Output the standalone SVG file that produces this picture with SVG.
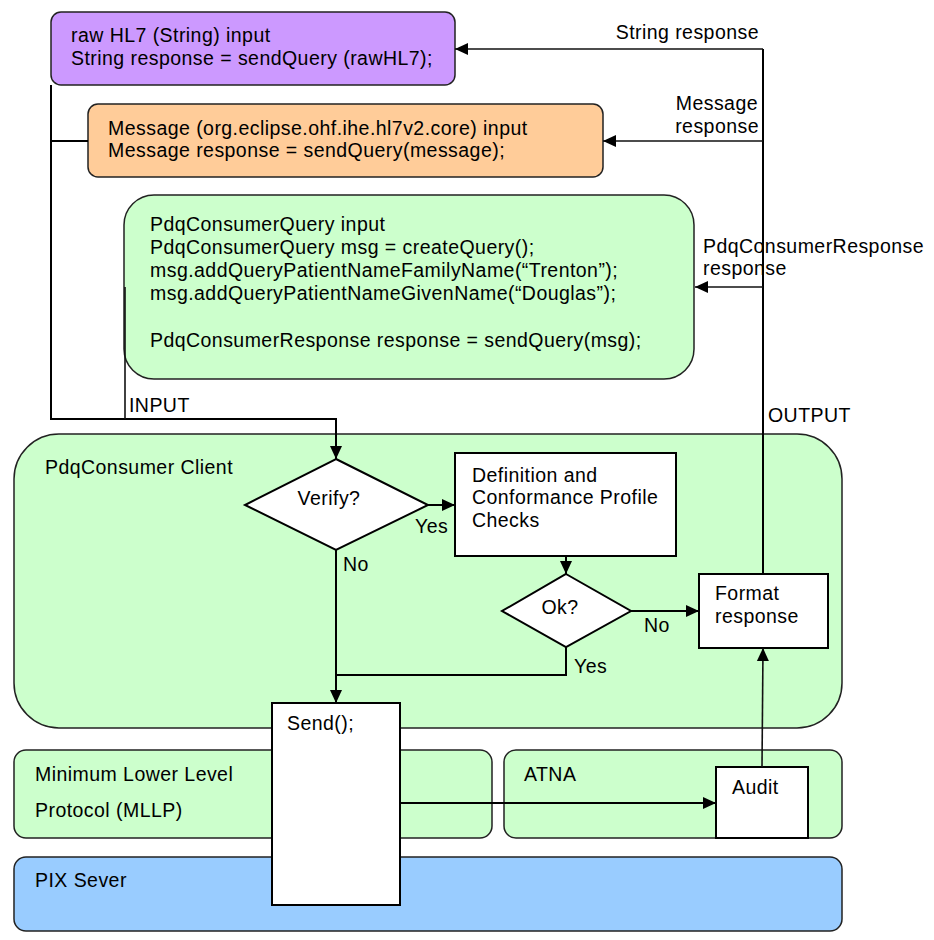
<svg xmlns="http://www.w3.org/2000/svg" width="934" height="940" viewBox="0 0 934 940">
<defs>
<marker id="ah" markerUnits="userSpaceOnUse" markerWidth="13" markerHeight="13" viewBox="0 0 13 13" refX="13" refY="6.5" orient="auto">
<path d="M0,0.5 L13,6.5 L0,12.5 z" fill="#000"/>
</marker>
<style>
text{font-family:"Liberation Sans",Arial,Helvetica,sans-serif;font-size:19.5px;letter-spacing:0.45px;fill:#000}
.box{stroke:#222;stroke-width:1.5}
.wb{fill:#fff;stroke:#000;stroke-width:2}
.c{fill:none;stroke:#000;stroke-width:2}
.c1{fill:none;stroke:#111;stroke-width:1.6}
</style>
</defs>
<rect width="934" height="940" fill="#fff"/>

<g id="client">
<rect class="box" x="14" y="434" width="828" height="294" rx="45" fill="#ccffcc"/>
<text x="45" y="474">PdqConsumer Client</text>
</g>
<g id="mllp">
<rect class="box" x="14" y="750" width="478" height="88" rx="12" fill="#ccffcc"/>
<text x="35" y="781">Minimum Lower Level</text>
<text x="35" y="817">Protocol (MLLP)</text>
</g>
<g id="atna">
<rect class="box" x="504" y="750" width="338" height="88" rx="12" fill="#ccffcc"/>
<text x="524" y="781">ATNA</text>
</g>
<g id="pix">
<rect class="box" x="14" y="857" width="828" height="74" rx="12" fill="#99ccff"/>
<text x="35" y="887">PIX Sever</text>
</g>

<g id="raw">
<rect class="box" x="51" y="12" width="404" height="73" rx="10" fill="#cc99ff"/>
<text x="71" y="42">raw HL7 (String) input</text>
<text x="71" y="65">String response = sendQuery (rawHL7);</text>
</g>
<g id="message">
<rect class="box" x="88" y="104" width="515" height="73" rx="10" fill="#ffcc99"/>
<text x="108" y="135">Message (org.eclipse.ohf.ihe.hl7v2.core) input</text>
<text x="108" y="157">Message response = sendQuery(message);</text>
</g>
<g id="pdqquery">
<rect class="box" x="124" y="195" width="570" height="184" rx="30" fill="#ccffcc"/>
<text x="150" y="231">PdqConsumerQuery input</text>
<text x="150" y="254">PdqConsumerQuery msg = createQuery();</text>
<text x="150" y="277">msg.addQueryPatientNameFamilyName(“Trenton”);</text>
<text x="150" y="300">msg.addQueryPatientNameGivenName(“Douglas”);</text>
<text x="150" y="347">PdqConsumerResponse response = sendQuery(msg);</text>
</g>

<g id="verify">
<polygon class="wb" points="336,459 428,505 336,550 245,505" stroke-width="1.5"/>
<text x="329" y="505" text-anchor="middle">Verify?</text>
</g>
<g id="checks">
<rect class="wb" x="455" y="453" width="221" height="103"/>
<text x="472" y="482">Definition and</text>
<text x="472" y="504">Conformance Profile</text>
<text x="472" y="527">Checks</text>
</g>
<g id="ok">
<polygon class="wb" points="566,574 631,611 566,647 502,611" stroke-width="1.5"/>
<text x="560" y="614" text-anchor="middle">Ok?</text>
</g>
<g id="format">
<rect class="wb" x="699" y="574" width="129" height="74"/>
<text x="715" y="600">Format</text>
<text x="715" y="623">response</text>
</g>
<g id="audit">
<rect class="wb" x="716" y="767" width="92" height="71"/>
<text x="732" y="794">Audit</text>
</g>
<g id="send">
<rect class="wb" x="272" y="703" width="128" height="202"/>
<text x="287" y="730">Send();</text>
</g>

<g id="connectors">
<polyline class="c" points="51,85 51,419 336,419 336,459" marker-end="url(#ah)"/>
<line class="c" x1="51" y1="141" x2="88" y2="141"/>
<line class="c1" x1="125" y1="287" x2="125" y2="419" stroke="#555"/>
<line class="c" x1="428" y1="505" x2="455" y2="505" marker-end="url(#ah)"/>
<line class="c" x1="336" y1="550" x2="336" y2="703" marker-end="url(#ah)"/>
<line class="c" x1="566" y1="556" x2="566" y2="574" marker-end="url(#ah)"/>
<polyline class="c" points="566,647 566,675 336,675"/>
<line class="c" x1="631" y1="611" x2="699" y2="611" marker-end="url(#ah)"/>
<line class="c" x1="400" y1="803" x2="716" y2="803" marker-end="url(#ah)"/>
<line class="c1" x1="762" y1="767" x2="763" y2="648" marker-end="url(#ah)"/>
<line class="c" x1="763" y1="574" x2="763" y2="49"/>
<line class="c1" x1="763" y1="49" x2="455" y2="49" marker-end="url(#ah)"/>
<line class="c1" x1="763" y1="141" x2="603" y2="141" marker-end="url(#ah)"/>
<line class="c1" x1="763" y1="287" x2="695" y2="287" marker-end="url(#ah)"/>
<text x="129" y="412">INPUT</text>
<text x="768" y="422">OUTPUT</text>
<text x="759" y="39" text-anchor="end">String response</text>
<text x="758" y="110" text-anchor="end">Message</text>
<text x="759" y="133" text-anchor="end">response</text>
<text x="703" y="253">PdqConsumerResponse</text>
<text x="703" y="275">response</text>
<text x="415" y="533">Yes</text>
<text x="343" y="571">No</text>
<text x="644" y="632">No</text>
<text x="574" y="673">Yes</text>
</g>
</svg>
